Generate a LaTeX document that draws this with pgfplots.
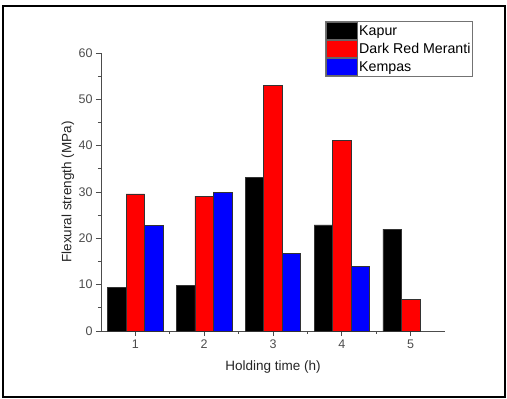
\documentclass[border=0pt]{standalone}
\usepackage{pgfplots}
\pgfplotsset{compat=1.18}
\usepackage{fontspec}
\setmainfont{Liberation Sans}
\begin{document}
\begin{tikzpicture}
\begin{axis}[
  name=ax,
  scale only axis,
  width=344pt, height=278pt,
  clip=false,
  ybar=0pt,
  bar width=18.5pt,
  xmin=0.5, xmax=5.5,
  ymin=0, ymax=60,
  xtick={1,2,3,4,5},
  ytick={0,10,20,30,40,50,60},
  minor x tick num=1,
  minor y tick num=1,
  axis lines*=left,
  axis line style={black!70, line width=0.8pt},
  tick style={black!70, line width=0.8pt},
  tick align=outside,
  major tick length=5pt,
  minor tick length=3pt,
  /pgf/number format/assume math mode=true,
  ticklabel style={font=\fontsize{12.5}{14}\selectfont, text=black!70},
  xlabel={Holding time (h)},
  ylabel={Flexural strength (MPa)},
  xlabel style={at={(axis description cs:0.5,-0.1295)}, anchor=center, font=\fontsize{13.5}{16}\selectfont, text=black!85},
  ylabel style={at={(axis description cs:-0.0959,0.5)}, anchor=center, font=\fontsize{13.5}{16}\selectfont, text=black!85},
  legend style={at={(axis description cs:0.651,1.115)}, anchor=north west,
    draw=black!55, line width=0.8pt, inner sep=0.8pt, row sep=1.2pt,
    font=\fontsize{14.2}{16}\selectfont,
    nodes={inner xsep=1.5pt, inner ysep=0pt, text depth=0pt}},
  legend cell align=left,
]
\addplot[fill=black, draw=black!80, line width=0.6pt, legend image code/.code={\path[draw=black!60, fill=black, line width=0.6pt] (0pt,-8.15pt) rectangle (31pt,8.15pt);}] coordinates {(1,9.4) (2,9.8) (3,33.2) (4,22.9) (5,22.0)};
\addplot[fill=red, draw=black!80, line width=0.6pt, legend image code/.code={\path[draw=black!60, fill=red, line width=0.6pt] (0pt,-8.15pt) rectangle (31pt,8.15pt);}] coordinates {(1,29.6) (2,29.1) (3,53.0) (4,41.1) (5,6.9)};
\addplot[fill=blue, draw=black!80, line width=0.6pt, legend image code/.code={\path[draw=black!60, fill=blue, line width=0.6pt] (0pt,-8.15pt) rectangle (31pt,8.15pt);}] coordinates {(1,22.8) (2,29.9) (3,16.7) (4,13.9)};
\legend{Kapur, Dark Red Meranti, Kempas}
\draw[line width=2.6pt, black] ([shift={(-98pt,-66pt)}]rel axis cs:0,0) rectangle ([shift={(404pt,325pt)}]rel axis cs:0,0);
\path ([shift={(-101pt,-68pt)}]rel axis cs:0,0) rectangle ([shift={(406pt,331pt)}]rel axis cs:0,0);
\end{axis}
\end{tikzpicture}
\end{document}
